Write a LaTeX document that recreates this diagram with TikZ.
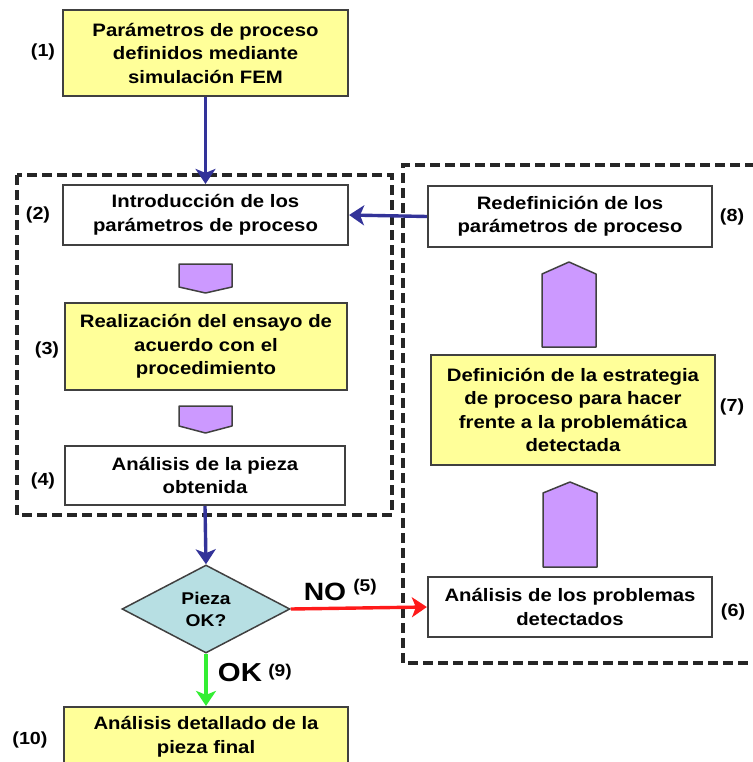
\documentclass[tikz,border=0pt]{standalone}
\usepackage{fontspec}
\setmainfont{Liberation Sans}[FakeStretch=1.13]
\usetikzlibrary{arrows.meta,shapes.geometric}

\definecolor{boxyellow}{HTML}{FFFF99}
\definecolor{blockpurple}{HTML}{CC99FF}
\definecolor{decisionteal}{HTML}{B7DFE3}
\definecolor{flowblue}{HTML}{333399}
\definecolor{flowred}{HTML}{FF1A1A}
\definecolor{flowgreen}{HTML}{33EE33}
\definecolor{edgegray}{HTML}{404040}

\newcommand{\boxfont}{\bfseries\fontsize{18}{23.5}\selectfont}

\tikzset{
  procbox/.style={draw=edgegray, line width=2.2pt, align=center, inner sep=0pt,
                  font=\boxfont, text=black},
  yellowbox/.style={procbox, fill=boxyellow},
  whitebox/.style={procbox, fill=white},
  steplabel/.style={font=\bfseries\fontsize{17.5}{19}\selectfont, inner sep=0pt},
  flowline/.style={line width=3.4pt, -{Stealth[length=15pt,width=20pt,inset=4pt]}},
  groupline/.style={dash pattern=on 10pt off 5pt, line width=3.2pt, black!85},
  blockarrow/.style={fill=blockpurple, draw=edgegray, line width=1.5pt, line join=round},
}

\begin{document}
\begin{tikzpicture}[x=1pt,y=-1pt]
\useasboundingbox (0,0) rectangle (752,762);

% dashed groupings
\draw[groupline] (17,175) rectangle (392,515);
\draw[groupline] (770,165) -- (403,165) -- (403,663) -- (770,663);

% process boxes, left column
\node[yellowbox, minimum width=285, minimum height=86] (b1) at (205.5,53)
  {Parámetros de proceso\\definidos mediante\\simulación FEM};
\node[whitebox, minimum width=285, minimum height=60] (b2) at (205.5,215)
  {Introducción de los\\parámetros de proceso};
\node[yellowbox, minimum width=282, minimum height=87] (b3) at (206,346.5)
  {Realización del ensayo de\\acuerdo con el\\procedimiento};
\node[whitebox, minimum width=280, minimum height=59] (b4) at (205,475.5)
  {Análisis de la pieza\\obtenida};
\node[draw=edgegray, line width=1.5pt, fill=decisionteal, shape=diamond,
      minimum width=168, minimum height=88, inner sep=0pt, align=center,
      font=\bfseries\fontsize{17}{22}\selectfont] (dec) at (206,609)
  {Pieza\\OK?};
\node[yellowbox, minimum width=284, minimum height=60] (b10) at (206,737)
  {Análisis detallado de la\\pieza final};

% process boxes, right column
\node[whitebox, minimum width=284, minimum height=61] (b8) at (570,216.5)
  {Redefinición de los\\parámetros de proceso};
\node[yellowbox, minimum width=284, minimum height=110] (b7) at (573,410)
  {Definición de la estrategia\\de proceso para hacer\\frente a la problemática\\detectada};
\node[whitebox, minimum width=284, minimum height=60] (b6) at (570,607)
  {Análisis de los problemas\\detectados};

% step numbers
\node[steplabel] (n1) at (43,52) {(1)};
\node[steplabel] (n2) at (38,215) {(2)};
\node[steplabel] (n3) at (47,350) {(3)};
\node[steplabel] (n4) at (43,481) {(4)};
\node[steplabel] (n10) at (30,740) {(10)};
\node[steplabel] (n8) at (732,217) {(8)};
\node[steplabel] (n7) at (732,407) {(7)};
\node[steplabel] (n6) at (733,612) {(6)};

% block arrows between steps
\draw[blockarrow] (179,264) -- (232,264) -- (232,287) -- (205.5,293) -- (179,287) -- cycle;
\draw[blockarrow] (179,406) -- (232,406) -- (232,426) -- (205.5,433) -- (179,426) -- cycle;
\draw[blockarrow] (542,347) -- (596,347) -- (596,274) -- (569,262) -- (542,274) -- cycle;
\draw[blockarrow] (543,567) -- (597,567) -- (597,493) -- (570,482) -- (543,493) -- cycle;

% connectors
\draw[flowline, flowblue] (b1.south) -- (b2.north);
\draw[flowline, flowblue] (b8.west) -- (b2.east);
\draw[flowline, flowblue] (b4.south) -- (dec.north);
\draw[flowline, flowred] (dec.east) -- (b6.west);
\draw[flowline, flowgreen] (dec.south) -- (b10.north);

% branch labels
\node[font=\bfseries\fontsize{25}{27}\selectfont, inner sep=0pt] (no) at (325,592) {NO};
\node[font=\bfseries\fontsize{17}{18}\selectfont, inner sep=0pt] (no5) at (365,587) {(5)};
\node[font=\bfseries\fontsize{26}{28}\selectfont, inner sep=0pt] (ok) at (240,673) {OK};
\node[font=\bfseries\fontsize{17}{18}\selectfont, inner sep=0pt] (ok9) at (280,672) {(9)};
\end{tikzpicture}
\end{document}
